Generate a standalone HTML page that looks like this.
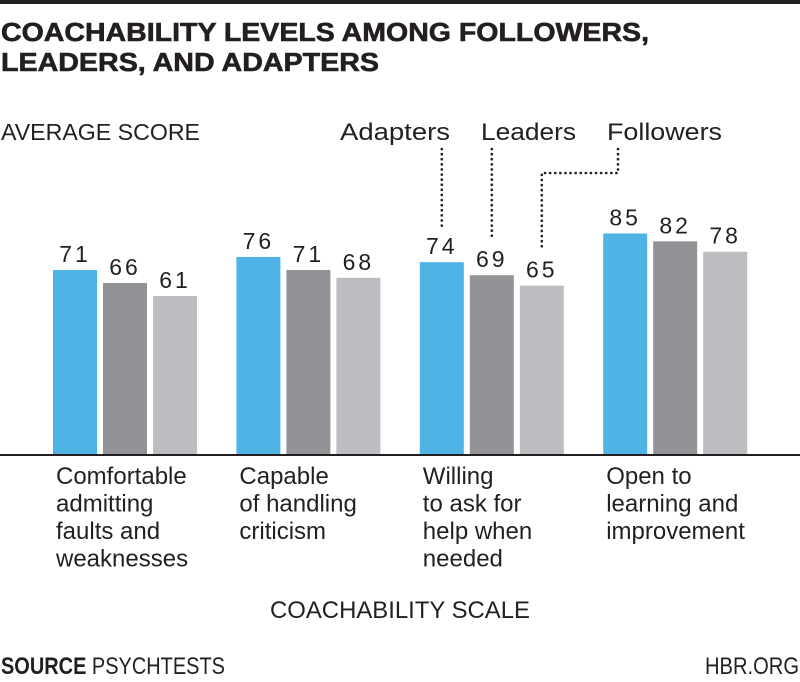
<!DOCTYPE html>
<html><head><meta charset="utf-8"><style>
body{margin:0;background:#fff;}
svg{display:block;font-family:"Liberation Sans",sans-serif;}
.cat{font-family:"Liberation Sans Narrow","Liberation Sans",sans-serif;font-size:24px;fill:#231f20;}
</style></head><body>
<svg id="chart" width="800" height="682" viewBox="0 0 800 682">
<rect x="0" y="0" width="800" height="4" fill="#231f20"/>
<text font-weight="bold" font-size="26" fill="#231f20" stroke="#231f20" stroke-width="0.6" textLength="648" lengthAdjust="spacingAndGlyphs" x="1" y="41">COACHABILITY LEVELS AMONG FOLLOWERS,</text>
<text font-weight="bold" font-size="26" fill="#231f20" stroke="#231f20" stroke-width="0.6" textLength="378" lengthAdjust="spacingAndGlyphs" x="1" y="71">LEADERS, AND ADAPTERS</text>
<text font-size="23" fill="#231f20" textLength="199" lengthAdjust="spacingAndGlyphs" x="1" y="140">AVERAGE SCORE</text>
<text font-size="24" fill="#231f20" textLength="110" lengthAdjust="spacingAndGlyphs" x="340" y="140">Adapters</text>
<text font-size="24" fill="#231f20" textLength="95" lengthAdjust="spacingAndGlyphs" x="481" y="140">Leaders</text>
<text font-size="24" fill="#231f20" textLength="115" lengthAdjust="spacingAndGlyphs" x="607" y="140">Followers</text>
<g id="bars"></g>
<rect x="0" y="454" width="800" height="2" fill="#231f20"/>
<text class="cat" x="270" y="618" textLength="260" lengthAdjust="spacingAndGlyphs">COACHABILITY SCALE</text>
<text class="cat" font-size="21" x="1" y="674" textLength="224" lengthAdjust="spacingAndGlyphs"><tspan font-weight="bold">SOURCE</tspan> PSYCHTESTS</text>
<text class="cat" font-size="21" x="705" y="674" textLength="94" lengthAdjust="spacingAndGlyphs">HBR.ORG</text>
</svg>
<script>
const categories=[["Comfortable","admitting","faults and","weaknesses"],["Capable","of handling","criticism"],["Willing","to ask for","help when","needed"],["Open to","learning and","improvement"]];
const adapters=[71,76,74,85];
const leaders=[66,71,69,82];
const followers=[61,68,65,78];
const seriesNames=["adapters","leaders","followers"];
const colors=["#4fb3e6","#929396","#bcbdc0"];
const NS="http://www.w3.org/2000/svg";
const g=document.getElementById('bars');
const base=455,k=2.606;
const y=v=>base-v*k;
const gx=i=>53+i*183.4;
const bx=j=>j*50;
const series=[adapters,leaders,followers];
function mk(t,a){const e=document.createElementNS(NS,t);for(const q in a)e.setAttribute(q,a[q]);g.appendChild(e);return e;}
categories.forEach((c,i)=>{
 series.forEach((s,j)=>{
  const r=mk('rect',{x:gx(i)+bx(j),y:y(s[i]),width:44,height:base-y(s[i]),fill:colors[j]});
  
  
  const t=mk('text',{x:gx(i)+bx(j)+22,y:y(s[i])-8,'text-anchor':'middle','font-size':'23','letter-spacing':'3','font-family':'"Liberation Sans",sans-serif',fill:'#231f20'});
  t.textContent=s[i];
  
  
 });
 const t=mk('text',{class:'cat',x:gx(i)+3,y:484});
 
 
 c.forEach((l,n)=>{const ts=document.createElementNS(NS,'tspan');ts.setAttribute('x',gx(i)+3);ts.setAttribute('y',484+n*27.5);ts.textContent=l;t.appendChild(ts);});
});
const i3=2;
const cx=j=>gx(i3)+bx(j)+22;
const dot={stroke:'#231f20','stroke-width':'2.6','stroke-dasharray':'0.1 5','stroke-linecap':'round',fill:'none'};
let p=mk('path',Object.assign({d:`M${cx(0)},149 V${y(adapters[i3])-36}`},dot));


p=mk('path',Object.assign({d:`M${cx(1)},149 V${y(leaders[i3])-36}`},dot));


p=mk('path',Object.assign({d:`M618,149 V173 H${cx(2)} V${y(followers[i3])-36}`},dot));


</script>
</body></html>
